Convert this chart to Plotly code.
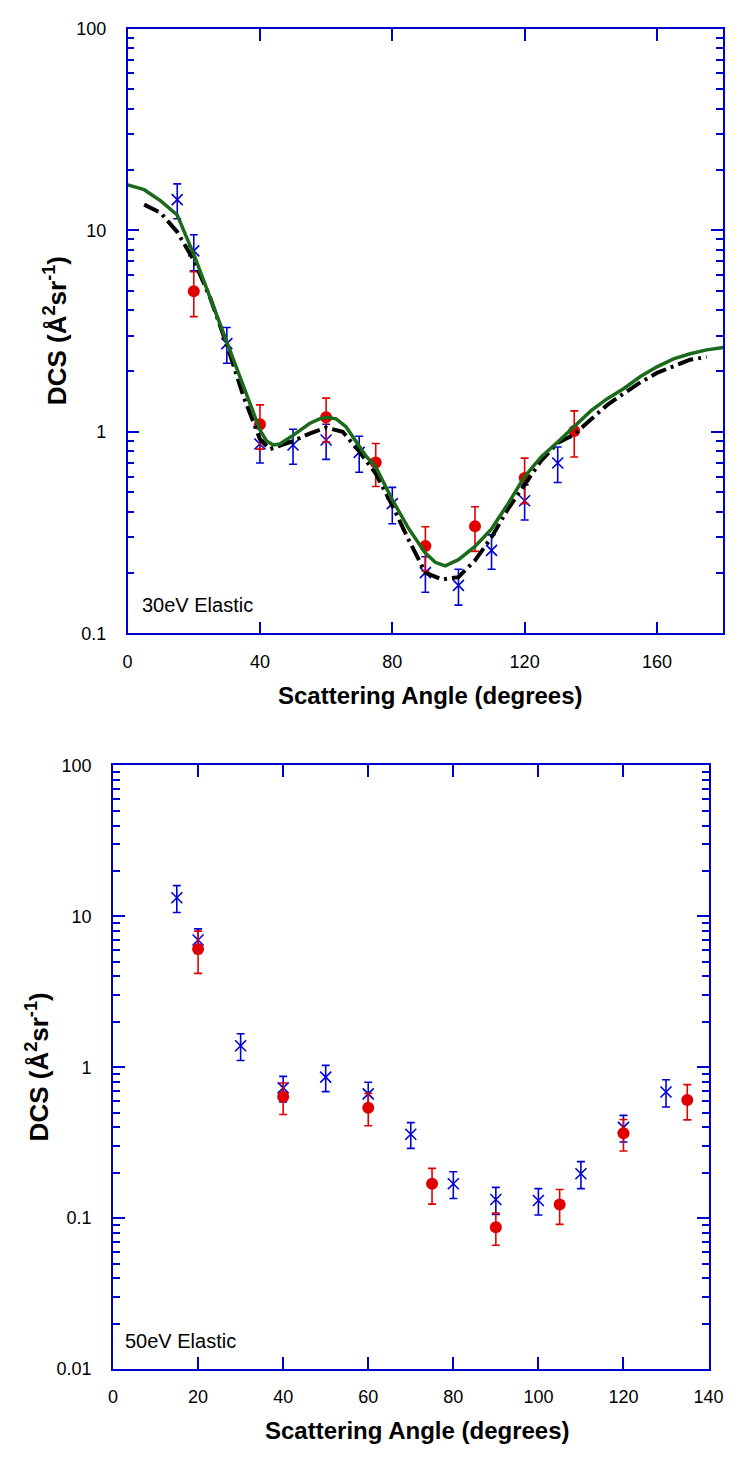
import plotly.graph_objects as go

W, H = 743, 1457

# ---------------- 30 eV data ----------------
ang30_blue = [15, 20, 30, 40, 50, 60, 70, 80, 90, 100, 110, 120, 130]
dcs30_blue = [14.2, 7.9, 2.74, 0.87, 0.86, 0.91, 0.79, 0.44, 0.20, 0.173, 0.258, 0.455, 0.70]
err30_blue = [2.8, 1.6, 0.55, 0.17, 0.17, 0.18, 0.16, 0.09, 0.04, 0.035, 0.05, 0.09, 0.14]

ang30_red = [20, 40, 60, 75, 90, 105, 120, 135]
dcs30_red = [4.98, 1.09, 1.18, 0.705, 0.271, 0.34, 0.59, 1.01]
err30_red = [1.25, 0.27, 0.29, 0.17, 0.067, 0.085, 0.15, 0.26]

ang30_green = [0, 5, 10, 15, 20, 25, 30, 35, 38, 40, 42, 44, 46, 50, 55, 58, 60, 63, 66, 69,
               72, 75, 80, 85, 90, 93, 96, 100, 105, 110, 115, 120, 125, 130, 135, 140, 145,
               150, 155, 160, 165, 170, 175, 180]
dcs30_green = [16.8, 15.9, 14.0, 11.9, 7.6, 4.6, 2.8, 1.65, 1.22, 1.02, 0.9, 0.86, 0.87, 0.96,
               1.1, 1.16, 1.18, 1.16, 1.06, 0.9, 0.76, 0.67, 0.46, 0.33, 0.25, 0.225, 0.216,
               0.232, 0.27, 0.33, 0.44, 0.6, 0.75, 0.89, 1.07, 1.27, 1.46, 1.64, 1.88, 2.1,
               2.3, 2.44, 2.55, 2.62]

ang30_black = [5, 10, 15, 20, 25, 30, 35, 40, 43, 45, 50, 55, 60, 65, 70, 75, 80, 85, 90, 95,
               100, 105, 110, 115, 120, 125, 130, 135, 140, 145, 150, 155, 160, 165, 170, 175]
dcs30_black = [13.4, 12.2, 9.8, 7.1, 4.6, 2.7, 1.5, 0.92, 0.82, 0.84, 0.9, 0.98, 1.05, 1.0, 0.8,
               0.62, 0.43, 0.29, 0.2, 0.185, 0.19, 0.23, 0.3, 0.415, 0.55, 0.72, 0.88, 0.97, 1.15,
               1.36, 1.55, 1.76, 1.96, 2.12, 2.28, 2.35]

# ---------------- 50 eV data ----------------
ang50_blue = [15, 20, 30, 40, 50, 60, 70, 80, 90, 100, 110, 120, 130]
dcs50_blue = [13.3, 6.97, 1.39, 0.73, 0.86, 0.666, 0.36, 0.169, 0.133, 0.131, 0.197, 0.40, 0.686]
err50_blue = [2.7, 1.3, 0.28, 0.14, 0.17, 0.13, 0.07, 0.034, 0.027, 0.026, 0.04, 0.08, 0.14]

ang50_red = [20, 40, 60, 75, 90, 105, 120, 135]
dcs50_red = [6.09, 0.637, 0.54, 0.169, 0.0872, 0.123, 0.365, 0.608]
err50_red = [1.9, 0.15, 0.13, 0.045, 0.021, 0.032, 0.086, 0.16]

# tick labels
x30_ticks = [0, 40, 80, 120, 160]
x50_ticks = [0, 20, 40, 60, 80, 100, 120, 140]
y30_ticks = [0.1, 1, 10, 100]
y30_labels = ["0.1", "1", "10", "100"]
y50_ticks = [0.01, 0.1, 1, 10, 100]
y50_labels = ["0.01", "0.1", "1", "10", "100"]

BLUE = "#0000d8"
RED = "#e00000"
AXBLUE = "#0000cc"
GREEN = "#1a6a1a"
FONT = "Liberation Sans, Arial, sans-serif"


def minors(lo, hi):
    vals = []
    e = lo
    while e < hi:
        for m in range(2, 10):
            vals.append(m * 10 ** e)
        e += 1
    return vals


fig = go.Figure()


def add_points(x, y, err, color, symbol, size, xa, ya, lw):
    fig.add_trace(go.Scatter(
        x=x, y=y, mode="markers", xaxis=xa, yaxis=ya,
        marker=dict(symbol=symbol, size=size, color=color,
                    line=dict(color=color, width=lw)),
        error_y=dict(type="data", array=err, visible=True, color=color,
                     thickness=1.6, width=4),
        showlegend=False))


# top plot
add_points(ang30_blue, dcs30_blue, err30_blue, BLUE, "x-thin", 11, "x", "y", 1.6)
add_points(ang30_red, dcs30_red, err30_red, RED, "circle", 12, "x", "y", 0)
fig.add_trace(go.Scatter(x=ang30_black, y=dcs30_black, mode="lines", xaxis="x", yaxis="y",
                         line=dict(color="black", width=4, dash="16px,5px,3px,5px"),
                         showlegend=False))
fig.add_trace(go.Scatter(x=ang30_green, y=dcs30_green, mode="lines", xaxis="x", yaxis="y",
                         line=dict(color=GREEN, width=3.5),
                         showlegend=False))

# bottom plot
add_points(ang50_blue, dcs50_blue, err50_blue, BLUE, "x-thin", 11, "x2", "y2", 1.6)
add_points(ang50_red, dcs50_red, err50_red, RED, "circle", 12, "x2", "y2", 0)


def px(x):
    return x / W


def py(y):
    return 1 - y / H


common_x = dict(showline=True, linecolor=AXBLUE, linewidth=1.6, mirror="allticks",
                ticks="inside", ticklen=12, tickwidth=1.6, tickcolor=AXBLUE,
                showgrid=False, zeroline=False,
                tickfont=dict(family=FONT, size=18, color="black"),
                ticklabelstandoff=11)
common_y = dict(showline=True, linecolor=AXBLUE, linewidth=1.6, mirror="allticks",
                ticks="inside", ticklen=12, tickwidth=1.6, tickcolor=AXBLUE,
                showgrid=False, zeroline=False, type="log",
                tickfont=dict(family=FONT, size=18, color="black"),
                ticklabelstandoff=16)

fig.update_layout(
    width=W, height=H,
    margin=dict(l=0, r=0, t=0, b=0),
    paper_bgcolor="white", plot_bgcolor="white",
    xaxis=dict(domain=[px(126), px(738)], range=[0, 180], anchor="y",
               tickmode="array", tickvals=x30_ticks, **common_x),
    yaxis=dict(domain=[py(632), py(19)], range=[-1, 2], anchor="x",
               tickmode="array", tickvals=y30_ticks, ticktext=y30_labels,
               minor=dict(tickmode="array", tickvals=minors(-1, 2), ticks="inside",
                          ticklen=7, tickwidth=1.6, tickcolor=AXBLUE, showgrid=False),
               **common_y),
    xaxis2=dict(domain=[px(111), px(723)], range=[0, 140], anchor="y2",
                tickmode="array", tickvals=x50_ticks, **common_x),
    yaxis2=dict(domain=[py(1378), py(766)], range=[-2, 2], anchor="x2",
                tickmode="array", tickvals=y50_ticks, ticktext=y50_labels,
                minor=dict(tickmode="array", tickvals=minors(-2, 2), ticks="inside",
                           ticklen=7, tickwidth=1.6, tickcolor=AXBLUE, showgrid=False),
                **common_y),
    showlegend=False,
)

ann_font = dict(family=FONT, size=20, color="black")
title_font = dict(family=FONT, size=24, color="black")
ytitle_font = dict(family=FONT, size=26, color="black")
ytitle = "<b>DCS (Å<sup>2</sup>sr<sup>-1</sup>)</b>"
fig.add_annotation(x=px(139), y=py(603), xref="paper", yref="paper", text="30eV Elastic",
                   showarrow=False, xanchor="left", yanchor="middle", font=ann_font)
fig.add_annotation(x=px(121), y=py(1350), xref="paper", yref="paper", text="50eV Elastic",
                   showarrow=False, xanchor="left", yanchor="middle", font=ann_font)
fig.add_annotation(x=px(437), y=py(695), xref="paper", yref="paper",
                   text="<b>Scattering Angle (degrees)</b>",
                   showarrow=False, xanchor="center", yanchor="middle", font=title_font)
fig.add_annotation(x=px(424), y=py(1440), xref="paper", yref="paper",
                   text="<b>Scattering Angle (degrees)</b>",
                   showarrow=False, xanchor="center", yanchor="middle", font=title_font)
fig.add_annotation(x=px(52), y=py(325), xref="paper", yref="paper", text=ytitle,
                   textangle=-90, showarrow=False, xanchor="center", yanchor="middle",
                   font=ytitle_font)
fig.add_annotation(x=px(33), y=py(1072), xref="paper", yref="paper", text=ytitle,
                   textangle=-90, showarrow=False, xanchor="center", yanchor="middle",
                   font=ytitle_font)

fig.write_html("out.html")
